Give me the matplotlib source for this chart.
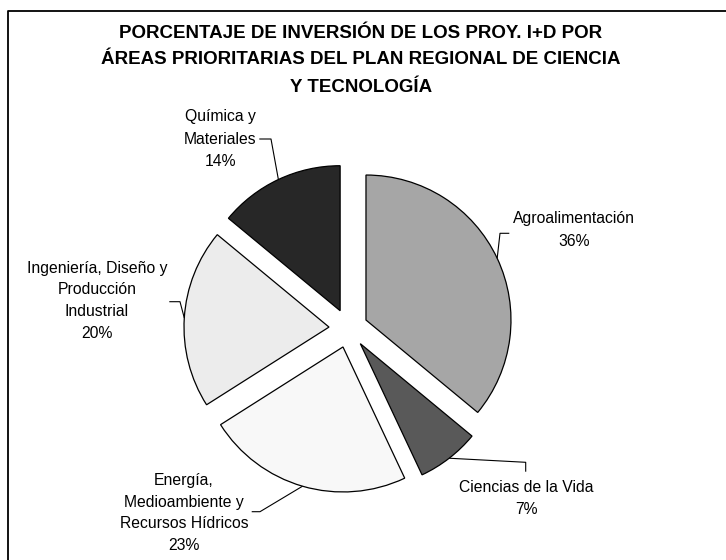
import numpy as np
import matplotlib
matplotlib.use("Agg")
import matplotlib.pyplot as plt

plt.rcParams['font.family'] = ['Liberation Sans', 'DejaVu Sans']

# ---- data ----
categories = ["Agroalimentación", "Ciencias de la Vida",
              "Energía,\nMedioambiente y\nRecursos Hídricos",
              "Ingeniería, Diseño y\nProducción\nIndustrial",
              "Química y\nMateriales"]
values = [36, 7, 23, 20, 14]
colors = ["#a6a6a6", "#595959", "#f8f8f8", "#ececec", "#272727"]
title_lines = ["PORCENTAJE DE INVERSIÓN DE LOS PROY. I+D POR",
               "ÁREAS PRIORITARIAS DEL PLAN REGIONAL DE CIENCIA",
               "Y TECNOLOGÍA"]

W, H = 726, 560
fig = plt.figure(figsize=(W / 100, H / 100), dpi=100)
ax = fig.add_axes([0, 0, 1, 1])

cx, cy = 348.4, H - 328.3
R = 145
explode = [0.134 * R] * len(values)   # pie() explodes in data units
wedges, _ = ax.pie(values, colors=colors, startangle=90, counterclock=False,
                   explode=explode, radius=R, center=(cx, cy), frame=True,
                   wedgeprops=dict(edgecolor="black", linewidth=0.9))
ax.set_xlim(0, W)
ax.set_ylim(0, H)
ax.set_aspect('equal')
ax.axis('off')

# label layout: (elbow point, end of horizontal segment, text center x, first line y) in px (y down)
layout = [
    ((500.0, 233.3), (509.3, 233.3), 574, 219),
    ((525.7, 462.3), (525.7, 471.7), 526, 488),
    ((260.0, 511.7), (251.7, 511.7), 184, 480),
    ((180.0, 301.7), (169.3, 301.7), 97, 268),
    ((271.0, 139.0), (259.3, 139.0), 220, 117),
]
step = 22
for w, cat, val, (elb, end, tx, ty) in zip(wedges, categories, values, layout):
    ang = np.deg2rad((w.theta1 + w.theta2) / 2)
    wx, wy = w.center
    sx, sy = wx + R * np.cos(ang), wy + R * np.sin(ang)
    ax.plot([sx, elb[0], end[0]], [sy, H - elb[1], H - end[1]],
            color="black", lw=0.8, solid_capstyle="butt")
    lines = cat.split("\n") + [f"{val}%"]
    for i, ln in enumerate(lines):
        ax.text(tx, H - (ty + i * step), ln, ha="center", va="center",
                fontsize=11.3, color="black")

for i, t in enumerate(title_lines):
    ax.text(361, H - (33 + i * 27), t, ha="center", va="center",
            fontsize=13.5, fontweight="bold", color="black")

# chart area border (cropped at right and bottom)
ax.plot([8, 8, W], [0, H - 11, H - 11], color="black", lw=1.3)

fig.savefig("out.png", dpi=100)
